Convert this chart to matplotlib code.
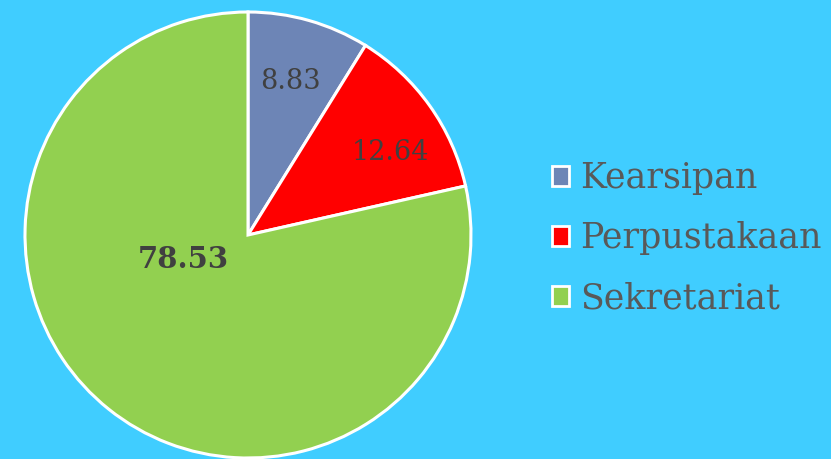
import matplotlib.pyplot as plt
from matplotlib.patches import Patch

# data
categories = ['Kearsipan', 'Perpustakaan', 'Sekretariat']
values = [8.83, 12.64, 78.53]
colors = ['#6D85B6', '#FF0000', '#92D050']
label_pos = [(0.19, 0.69), (0.64, 0.37), (-0.29, -0.11)]  # label spots, in pie radius units
label_bold = [False, False, True]

bg = '#40CDFF'
plt.rcParams['font.family'] = ['DejaVu Serif']

fig = plt.figure(figsize = (8.31, 4.59), dpi = 100, facecolor = bg)

cx, cy, r = 248, 235, 223
ax = fig.add_axes([(cx - r) / 831, (459 - cy - r) / 459, 2 * r / 831, 2 * r / 459])
ax.set_facecolor(bg)

wedges, _ = ax.pie(values, colors = colors, startangle = 90, counterclock = False,
                   wedgeprops = {'edgecolor': 'white', 'linewidth': 2.2})
ax.set_xlim(-1.0, 1.0); ax.set_ylim(-1.0, 1.0)
ax.set_aspect('equal')

for v, (x, y), b in zip(values, label_pos, label_bold):
    ax.text(x, y, f'{v:.2f}', ha = 'center', va = 'center',
            fontsize = 21 if b else 19.5,
            color = '#404040', fontweight = 'bold' if b else 'normal')

handles = [Patch(facecolor = c, edgecolor = 'white', linewidth = 2) for c in colors]
fig.legend(handles, categories, loc = 'center left', bbox_to_anchor = (552 / 831, 1 - 238 / 459),
           frameon = False, fontsize = 25, labelcolor = '#595959', borderpad = 0, borderaxespad = 0,
           handlelength = 0.5, handleheight = 0.5, handletextpad = 0.3, labelspacing = 0.75)

plt.savefig('out.png', dpi = 100, facecolor = bg)
plt.close()
